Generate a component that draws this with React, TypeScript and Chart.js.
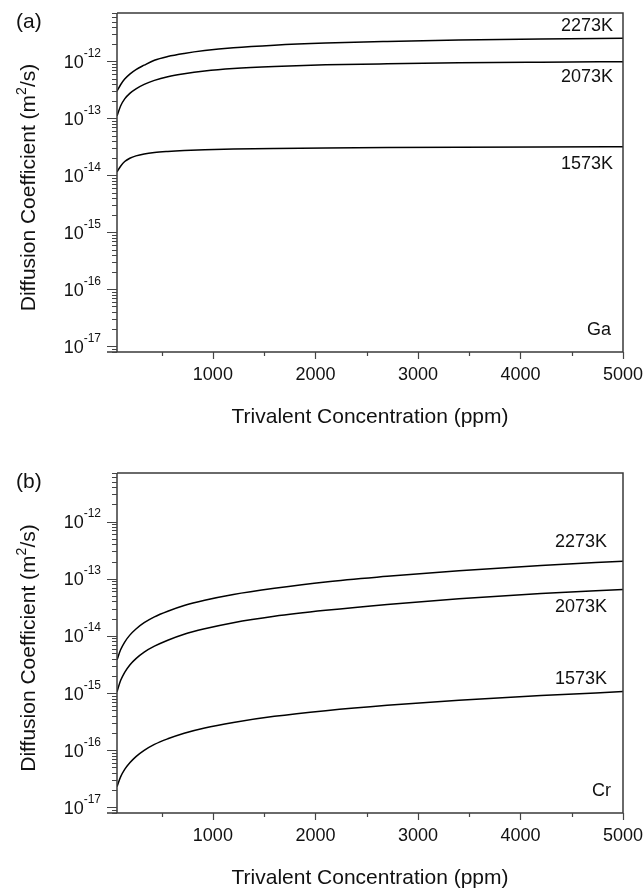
import React, { useEffect, useRef } from 'react';
import { Chart, registerables } from 'chart.js';
Chart.register(...registerables);

// ---------- data ----------
const concentration = [65, 100, 140, 190, 250, 330, 430, 560, 720, 920, 1200, 1600, 2100, 2700, 3400, 4200, 5000];

// (a) Ga
const ga2273 = [3.0e-13, 3.9e-13, 4.9e-13, 6.0e-13, 7.2e-13, 8.6e-13, 1.05e-12, 1.22e-12, 1.38e-12, 1.55e-12, 1.74e-12, 1.93e-12, 2.1e-12, 2.24e-12, 2.37e-12, 2.48e-12, 2.56e-12];
const ga2073 = [1.1e-13, 1.65e-13, 2.2e-13, 2.75e-13, 3.3e-13, 3.95e-13, 4.65e-13, 5.4e-13, 6.1e-13, 6.8e-13, 7.5e-13, 8.15e-13, 8.7e-13, 9.1e-13, 9.45e-13, 9.7e-13, 9.9e-13];
const ga1573 = [1.15e-14, 1.45e-14, 1.75e-14, 2.0e-14, 2.2e-14, 2.38e-14, 2.52e-14, 2.63e-14, 2.73e-14, 2.82e-14, 2.9e-14, 2.97e-14, 3.03e-14, 3.08e-14, 3.12e-14, 3.15e-14, 3.17e-14];

// (b) Cr
const cr2273 = [3.8e-15, 5.7e-15, 7.8e-15, 1.03e-14, 1.32e-14, 1.7e-14, 2.15e-14, 2.7e-14, 3.4e-14, 4.2e-14, 5.3e-14, 6.8e-14, 8.8e-14, 1.1e-13, 1.38e-13, 1.7e-13, 2.03e-13];
const cr2073 = [1.05e-15, 1.65e-15, 2.3e-15, 3.1e-15, 4.0e-15, 5.2e-15, 6.6e-15, 8.4e-15, 1.07e-14, 1.33e-14, 1.7e-14, 2.2e-14, 2.8e-14, 3.55e-14, 4.45e-14, 5.5e-14, 6.5e-14];
const cr1573 = [2.3e-17, 3.4e-17, 4.6e-17, 6.0e-17, 7.7e-17, 9.9e-17, 1.26e-16, 1.58e-16, 1.98e-16, 2.45e-16, 3.05e-16, 3.9e-16, 4.9e-16, 6.1e-16, 7.5e-16, 9.0e-16, 1.06e-15];

const temperatureLabels = ['2273K', '2073K', '1573K'];
const xMajorTicks = [1000, 2000, 3000, 4000, 5000];
const xMinorTicks = [500, 1500, 2500, 3500, 4500];
const yDecadeExponents = [-17, -16, -15, -14, -13, -12];
const xTitle = 'Trivalent Concentration (ppm)';
const yTitleParts = [{ t: 'Diffusion Coefficient (m' }, { t: '2', sup: true }, { t: '/s)' }];

const X_MIN = 65;
const X_MAX = 5000;
const Y_MIN = Math.pow(10, -17.1);
const Y_MAX = Math.pow(10, -11.15);

const FONT = '"Liberation Sans", Arial, Helvetica, sans-serif';

type Part = { t: string; sup?: boolean };

function partsWidth(ctx: CanvasRenderingContext2D, parts: Part[], size: number, supSize: number) {
  let w = 0;
  for (const p of parts) {
    ctx.font = `${p.sup ? supSize : size}px ${FONT}`;
    w += ctx.measureText(p.t).width;
  }
  return w;
}

function drawParts(ctx: CanvasRenderingContext2D, parts: Part[], x: number, y: number, size: number, supSize: number, supRise: number) {
  let cx = x;
  ctx.textAlign = 'left';
  ctx.textBaseline = 'alphabetic';
  for (const p of parts) {
    ctx.font = `${p.sup ? supSize : size}px ${FONT}`;
    ctx.fillText(p.t, cx, p.sup ? y - supRise : y);
    cx += ctx.measureText(p.t).width;
  }
}

type PanelCfg = {
  panelLabel: string;
  element: string;
  labelOffsets: number[];
  labelRight: number;
};

function makeAxesPlugin(cfg: PanelCfg) {
  return {
    id: 'originAxes',
    afterDraw(chart: any) {
      const { ctx, chartArea } = chart;
      const xs = chart.scales.x;
      const ys = chart.scales.y;
      const { left, right, top, bottom } = chartArea;
      ctx.save();
      // frame
      ctx.strokeStyle = '#3a3a3a';
      ctx.lineWidth = 1.5;
      ctx.beginPath();
      ctx.moveTo(left, top);
      ctx.lineTo(right, top);
      ctx.lineTo(right, bottom);
      ctx.moveTo(left - 10, bottom);
      ctx.lineTo(right, bottom);
      ctx.moveTo(left, top);
      ctx.lineTo(left, bottom);
      ctx.stroke();

      // y ticks (log)
      ctx.lineWidth = 1.2;
      ctx.strokeStyle = '#444';
      ctx.beginPath();
      for (let n = -18; n <= -11; n++) {
        for (let k = 1; k <= 9; k++) {
          const v = k * Math.pow(10, n);
          if (v < Y_MIN || v > Y_MAX) continue;
          const py = Math.round(ys.getPixelForValue(v)) + 0.5;
          const len = k === 1 ? 10 : 5;
          ctx.moveTo(left, py);
          ctx.lineTo(left - len, py);
        }
      }
      // x ticks
      for (const v of xMajorTicks) {
        const px = Math.round(xs.getPixelForValue(v)) + 0.5;
        ctx.moveTo(px, bottom);
        ctx.lineTo(px, bottom + 7);
      }
      for (const v of xMinorTicks) {
        const px = Math.round(xs.getPixelForValue(v)) + 0.5;
        ctx.moveTo(px, bottom);
        ctx.lineTo(px, bottom + 4);
      }
      ctx.stroke();

      ctx.fillStyle = '#111';
      // y tick labels
      for (const n of yDecadeExponents) {
        const py = ys.getPixelForValue(Math.pow(10, n));
        const parts: Part[] = [{ t: '10' }, { t: String(n), sup: true }];
        const w = partsWidth(ctx, parts, 18, 12);
        drawParts(ctx, parts, 101 - w, py + 6.5, 18, 12, 11);
      }
      // x tick labels
      ctx.font = `18px ${FONT}`;
      ctx.textAlign = 'center';
      ctx.textBaseline = 'alphabetic';
      for (const v of xMajorTicks) {
        ctx.fillText(String(v), xs.getPixelForValue(v), bottom + 28);
      }
      // x title
      ctx.font = `21px ${FONT}`;
      ctx.fillText(xTitle, (left + right) / 2, bottom + 71);

      // y title (rotated)
      ctx.save();
      ctx.translate(35, (top + bottom) / 2 + 5);
      ctx.rotate(-Math.PI / 2);
      const tw = partsWidth(ctx, yTitleParts, 21, 14);
      drawParts(ctx, yTitleParts, -tw / 2, 0, 21, 14, 9);
      ctx.restore();

      // panel label
      ctx.font = `21px ${FONT}`;
      ctx.textAlign = 'left';
      ctx.fillText(cfg.panelLabel, 16, 28);

      // curve labels
      ctx.font = `18px ${FONT}`;
      ctx.textAlign = 'right';
      chart.data.datasets.forEach((ds: any, i: number) => {
        const last = ds.data[ds.data.length - 1];
        const py = ys.getPixelForValue(last.y);
        ctx.fillText(temperatureLabels[i], cfg.labelRight, py + cfg.labelOffsets[i]);
      });
      // element label
      ctx.fillText(cfg.element, right - 12, bottom - 17);
      ctx.restore();
    },
  };
}

function Panel({ height, series, cfg, padBottom }: { height: number; series: number[][]; cfg: PanelCfg; padBottom: number }) {
  const ref = useRef<HTMLCanvasElement | null>(null);
  useEffect(() => {
    if (!ref.current) return;
    const chart = new Chart(ref.current, {
      type: 'line',
      data: {
        datasets: series.map((s, i) => ({
          label: temperatureLabels[i],
          data: concentration.map((c, j) => ({ x: c, y: s[j] })),
          borderColor: '#000',
          borderWidth: 1.5,
          pointRadius: 0,
          fill: false,
          cubicInterpolationMode: 'monotone' as const,
        })),
      },
      options: {
        responsive: false,
        animation: false,
        devicePixelRatio: 1,
        layout: { padding: { left: 117, top: 13, right: 20, bottom: padBottom } },
        plugins: { legend: { display: false }, tooltip: { enabled: false } },
        scales: {
          x: { type: 'linear', min: X_MIN, max: X_MAX, display: false },
          y: { type: 'logarithmic', min: Y_MIN, max: Y_MAX, display: false },
        },
      },
      plugins: [makeAxesPlugin(cfg)],
    });
    return () => chart.destroy();
  }, []);
  return <canvas ref={ref} width={643} height={height} style={{ display: 'block', width: 643, height }} />;
}

export default function App() {
  return (
    <div style={{ position: 'absolute', left: 0, top: 0, width: 643, height: 894, background: '#fff' }}>
      <Panel
        height={460}
        padBottom={108}
        series={[ga2273, ga2073, ga1573]}
        cfg={{ panelLabel: '(a)', element: 'Ga', labelOffsets: [-7, 20, 22], labelRight: 613 }}
      />
      <Panel
        height={434}
        padBottom={81}
        series={[cr2273, cr2073, cr1573]}
        cfg={{ panelLabel: '(b)', element: 'Cr', labelOffsets: [-14, 23, -8], labelRight: 607 }}
      />
    </div>
  );
}
